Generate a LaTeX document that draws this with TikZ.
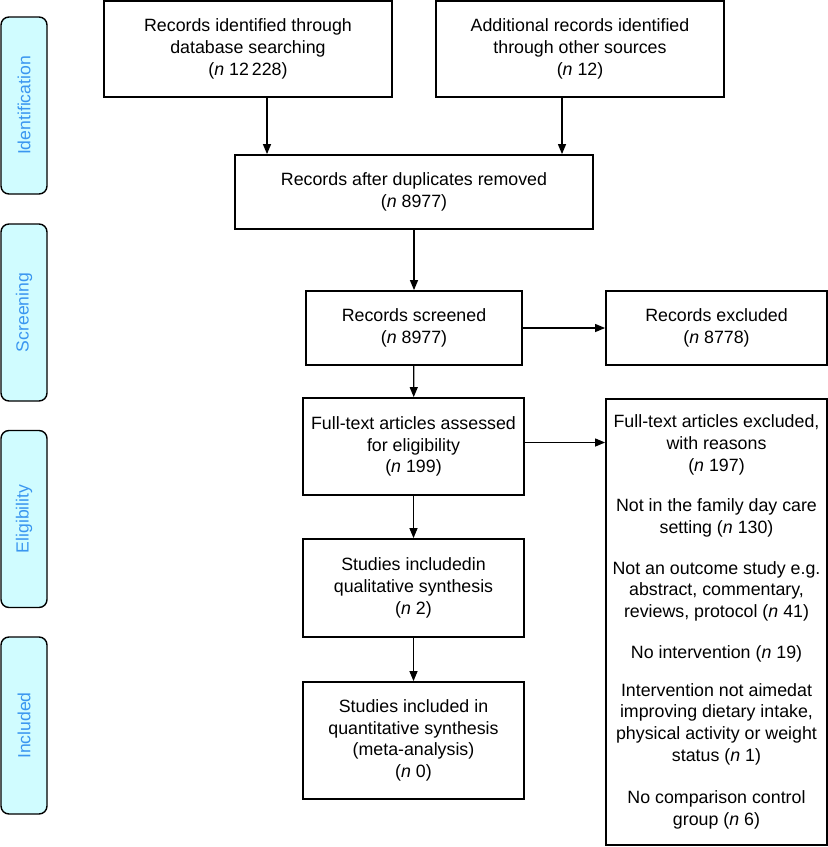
\documentclass[tikz,border=0pt]{standalone}
\usepackage{fontspec}
\setmainfont{Liberation Sans}
\usepackage{tikz}
\usetikzlibrary{arrows.meta,positioning}
\definecolor{stagefill}{RGB}{208,252,255}
\definecolor{stagetext}{RGB}{58,150,240}
\tikzstyle{box}=[draw,line width=1.8pt,align=center,inner sep=2pt,
  font=\fontsize{17.8}{21.7}\selectfont]
\tikzstyle{stage}=[draw,line width=1.4pt,rounded corners=8pt,fill=stagefill,
  text=stagetext,rotate=90,minimum width=177pt,minimum height=46pt,
  font=\fontsize{17.6}{21}\selectfont]

\begin{document}
\begin{tikzpicture}[x=1pt,y=-1pt,>={Triangle[length=10pt,width=8pt]},
    line width=1.2pt]
    \useasboundingbox (0,0) rectangle (828,847);

    % stages on the left
    \node[stage] at (24,105.5) (ident) {Identification};
    \node[stage] at (24,312.5) (screen) {Screening};
    \node[stage] at (24,519) (elig) {Eligibility};
    \node[stage] at (24,725.5) (incl) {Included};

    % main column
    \node[box,minimum width=288pt,minimum height=96pt] at (248,49)
    (dbase) {Records identified through\\database searching\\(\textit{n} 12\,228)};
    \node[box,minimum width=288pt,minimum height=96pt] at (580,49)
    (other) {Additional records identified\\through other sources\\(\textit{n} 12)};
    \node[box,minimum width=358pt,minimum height=74pt] at (414,192)
    (dupl) {Records after duplicates removed\\(\textit{n} 8977)};
    \node[box,minimum width=216pt,minimum height=74pt] at (414,328)
    (scrd) {Records screened\\(\textit{n} 8977)};
    \node[box,minimum width=221pt,minimum height=74pt] at (716.5,328)
    (excl) {Records excluded\\(\textit{n} 8778)};
    \node[box,minimum width=221pt,minimum height=97pt] at (413.5,446.5)
    (full) {Full-text articles assessed\\for eligibility\\(\textit{n} 199)};
    \node[box,minimum width=221pt,minimum height=446pt] at (716.5,622)
    (fullex) {Full-text articles excluded,\\with reasons\\(\textit{n} 197)\\[19pt]
      Not in the family day care\\setting (\textit{n} 130)\\[19pt]
      Not an outcome study e.g.\\abstract, commentary,\\reviews, protocol (\textit{n} 41)\\[19pt]
      No intervention (\textit{n} 19)\\[16pt]
      Intervention not aimedat\\improving dietary intake,\\physical activity or weight\\status (\textit{n} 1)\\[21pt]
      No comparison control\\group (\textit{n} 6)};
    \node[box,minimum width=221pt,minimum height=98pt] at (413.5,588)
    (qual) {Studies includedin\\qualitative synthesis\\(\textit{n} 2)};
    \node[box,minimum width=221pt,minimum height=117pt] at (413.5,740.5)
    (quant) {Studies included in\\quantitative synthesis\\(meta-analysis)\\(\textit{n} 0)};

    % arrows
    \draw[->] ([xshift=19pt]dbase.south) -- ([xshift=19pt]dbase.south |- dupl.north);
    \draw[->] ([xshift=-18pt]other.south) -- ([xshift=-18pt]other.south |- dupl.north);
    \draw[->] (dupl) -- (scrd);
    \draw[->] (scrd) -- (excl);
    \draw[->] (scrd) -- (full);
    \draw[->] ([yshift=4pt]full.east) -- ([yshift=4pt]full.east -| fullex.west);
    \draw[->] (full) -- (qual);
    \draw[->] (qual) -- (quant);
  \end{tikzpicture}
\end{document}
